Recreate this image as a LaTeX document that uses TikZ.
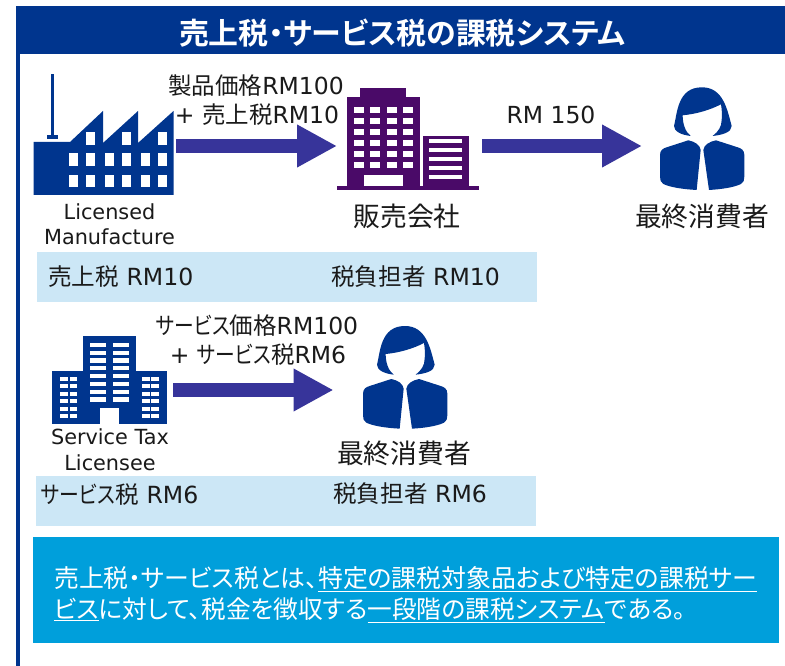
\documentclass[tikz,border=0pt]{standalone}
\usepackage{fontspec}
\setmainfont{DejaVu Sans}
\newfontfamily\jp[RawFeature=+palt]{Noto Sans CJK JP}
\newfontfamily\jpk[RawFeature=+palt,FakeStretch=0.84]{Noto Sans CJK JP}
\newfontfamily\jpb[RawFeature=+palt]{Noto Sans CJK JP Bold}
\newcommand{\J}[1]{{\jp #1}}
\newcommand{\K}[1]{{\jpk #1}}
\usetikzlibrary{arrows.meta}
\definecolor{navy}{HTML}{00358E}
\definecolor{plum}{HTML}{4A0A68}
\definecolor{arrowblue}{HTML}{37349A}
\definecolor{paleblue}{HTML}{CCE7F6}
\definecolor{notebox}{HTML}{009FDB}
\definecolor{ink}{HTML}{1A1A1A}
\newcommand{\fs}[1]{\fontsize{#1}{#1}\selectfont}
\tikzset{
  lab/.style={inner sep=0pt,text=ink,font=\fs{#1}},
  iconbox/.style={inner sep=0pt,outer sep=0pt,draw=none,fill=none},
  bigarrow/.style={draw=arrowblue,line width=13.5pt,-{Triangle[length=40pt,width=40pt,color=arrowblue]}},
  personicon/.pic={
    \begin{scope}[scale=0.33333,xshift=-1146pt,yshift=82pt]
    \fill[navy] (1112,228) .. controls (1085,225) and (1062,215) .. (1062,198)
      .. controls (1072,160) and (1072,82) .. (1146,82)
      .. controls (1210,82) and (1222,150) .. (1235,198)
      .. controls (1235,218) and (1205,225) .. (1178,228)
      .. controls (1195,215) and (1205,200) .. (1205,180)
      .. controls (1207,165) and (1205,145) .. (1203,133)
      .. controls (1170,150) and (1130,162) .. (1088,166)
      .. controls (1088,190) and (1095,215) .. (1112,228) -- cycle;
    \fill[navy] (1020,285) .. controls (1020,270) and (1030,265) .. (1040,262)
      -- (1105,241) .. controls (1125,245) and (1140,255) .. (1142,270)
      -- (1130,390) .. controls (1090,388) and (1050,382) .. (1030,372)
      .. controls (1022,368) and (1020,360) .. (1020,350) -- cycle;
    \fill[navy] (1273,285) .. controls (1273,270) and (1263,265) .. (1253,262)
      -- (1188,241) .. controls (1168,245) and (1152,255) .. (1150,270)
      -- (1167,390) .. controls (1205,388) and (1243,382) .. (1263,372)
      .. controls (1271,368) and (1273,360) .. (1273,350) -- cycle;
    \end{scope}
  }
}
\begin{document}
\begin{tikzpicture}[x=1pt,y=-1pt]
\useasboundingbox (0,0) rectangle (785,666);
\fill[white] (0,0) rectangle (785,666);
% frame
\fill[navy] (16,50) rectangle (19.5,666);
\fill[navy] (16,6) rectangle (785,54);
\node[inner sep=0pt,text=white,font=\fs{29.9}\jpb] (title) at (402.5,33) {売上税・サービス税の課税システム};
% pale boxes
\fill[paleblue] (37,252) rectangle (537,302);
\fill[paleblue] (36,476) rectangle (536,526);
% factory
\node[iconbox,minimum width=140pt,minimum height=98pt] (factory) at (103.5,146) {};
\fill[navy] (33.5,142) -- (70,142) -- (103,111) -- (103,143) -- (138,111) -- (138,143) -- (173.5,111) -- (173.5,195) -- (33.5,195) -- cycle;
\fill[navy] (50.5,74) rectangle (54,135);
\fill[navy] (46.5,135) rectangle (58,139);
\foreach \x/\w in {86/9,122/9,158/8.5} \fill[white] (\x,132) rectangle ++(\w,13);
\foreach \x/\w in {69/9,86/9,105/9,122/9,141/9,158/8.5} {
  \fill[white] (\x,153.5) rectangle ++(\w,12.5);
  \fill[white] (\x,175) rectangle ++(\w,12.5);
}
% seller building
\node[iconbox,minimum width=142pt,minimum height=88pt] (seller) at (408,146) {};
\fill[plum] (337,186) rectangle (479,190);
\fill[plum] (347,97) rectangle (419.5,186);
\fill[plum] (360,88) rectangle (406,97);
\foreach \x in {353.7,370.3,386.7,403}
  \foreach \y in {106.7,117.7,128.7,139.7,150.7,161.7}
    \fill[white] (\x,\y) rectangle ++(10,6);
\fill[white] (363.7,175) rectangle (402.7,185.7);
\fill[plum] (422.7,135.7) rectangle (468.7,186);
\foreach \y in {139.3,148.3,157.3,166.2,175}
  \fill[white] (429.3,\y) rectangle ++(32.7,4);
% consumer 1
\node[iconbox,minimum width=85pt,minimum height=103pt] (consumerA) at (702,146) {};
\pic at (702,87.3) {personicon};
% service building
\node[iconbox,minimum width=114pt,minimum height=88pt] (service) at (109.5,390) {};
\fill[navy] (82.7,335.7) rectangle (136,424);
\fill[navy] (52.3,371) rectangle (82.7,424);
\fill[navy] (136,371) rectangle (166.7,424);
\foreach \x in {90.3,112.7}
  \foreach \i in {0,...,7}
    \fill[white] (\x,342.7+7.8*\i) rectangle ++(16,4.2);
\fill[white] (100.3,407.7) rectangle (119,424);
\foreach \x/\w in {60.3/8,69.7/7.3,142/8,151.3/7.4}
  \foreach \i in {0,...,5}
    \fill[white] (\x,376.7+7.55*\i) rectangle ++(\w,4);
% consumer 2
\node[iconbox,minimum width=85pt,minimum height=103pt] (consumerB) at (405,390) {};
\pic at (405,326) {personicon};
% arrows
\draw[bigarrow,shorten <=2.5pt] (factory.east) -- (seller.west);
\draw[bigarrow,shorten <=3pt,shorten >=17.5pt] (seller.east) -- (consumerA.west);
\draw[bigarrow,shorten <=6.5pt,shorten >=29pt] (service.east) -- (consumerB.west);
% labels row 1
\node[lab=23.5] (price1) at (256,86) {\J{製品価格}RM100};
\node[lab=23.5] (tax1) at (257,115) {+ \J{売上税}RM10};
\node[lab=23.5] (rm150) at (551,115) {RM 150};
\node[lab=20.8] (lic1a) at (109.5,212) {Licensed};
\node[lab=20.8] (lic1b) at (109.5,237) {Manufacture};
\node[lab=26.8] (sellername) at (407,216) {\J{販売会社}};
\node[lab=26.8] (consA) at (702,216) {\J{最終消費者}};
\node[lab=23.6,anchor=west] (sales) at (48,277) {\J{売上税} RM10};
\node[lab=23.6,anchor=west] (burden1) at (331,277) {\J{税負担者} RM10};
% labels row 2
\node[lab=23.5] (price2) at (257,326) {\K{サービス}\J{価格}RM100};
\node[lab=23.5] (tax2) at (258,355) {+ \K{サービス}\J{税}RM6};
\node[lab=20.8] (lic2a) at (110,437) {Service Tax};
\node[lab=20.8] (lic2b) at (110,463) {Licensee};
\node[lab=26.8] (consB) at (404,453) {\J{最終消費者}};
\node[lab=23.6,anchor=west] (svc) at (41,495) {\K{サービス}\J{税} RM6};
\node[lab=23.6,anchor=west] (burden2) at (333,494) {\J{税負担者} RM6};
% note
\fill[notebox] (33,537) rectangle (779,643);
\node[inner sep=0pt,anchor=west,text=white,font=\fs{24.85}\jp] (noteA) at (54,579) {売上税・サービス税とは、\underline{特定の課税対象品および特定の課税サー}};
\node[inner sep=0pt,anchor=west,text=white,font=\fs{24.7}\jp] (noteB) at (54,610) {\underline{ビス}に対して、税金を徴収する\underline{一段階の課税システム}である。};
\end{tikzpicture}
\end{document}
